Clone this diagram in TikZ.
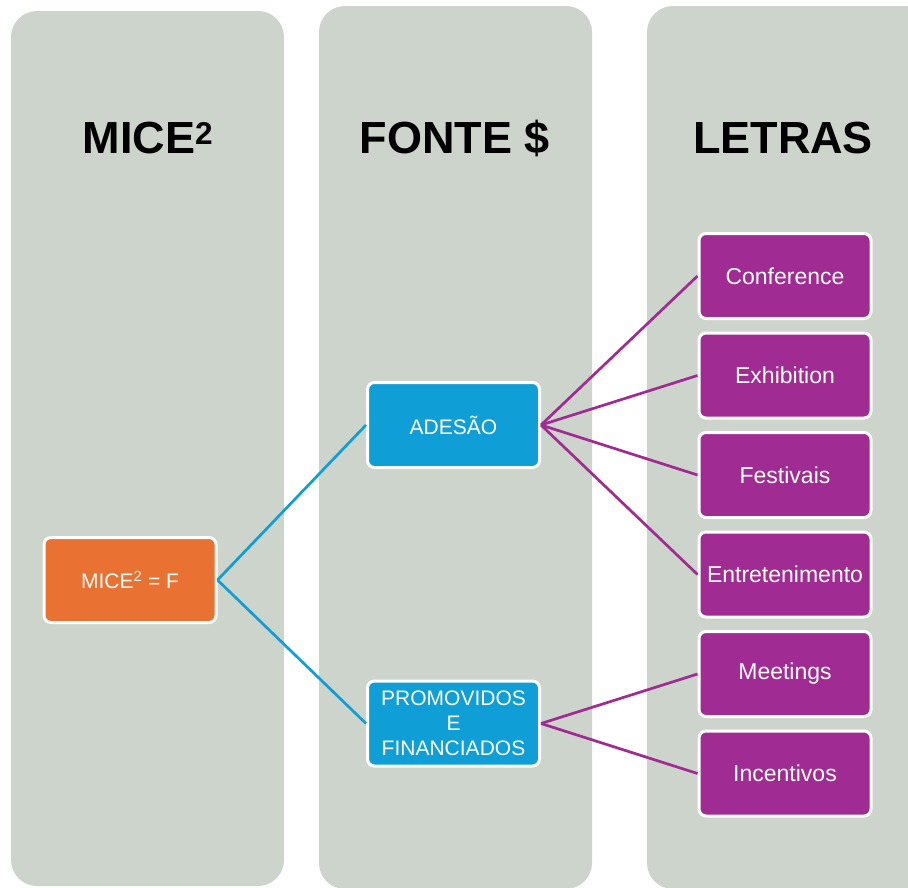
\documentclass[tikz,border=0pt]{standalone}
\usepackage{fontspec}
\setmainfont{Liberation Sans}
\definecolor{panel}{HTML}{CDD4CC}
\definecolor{orng}{HTML}{E97132}
\definecolor{blu}{HTML}{0F9ED5}
\definecolor{purp}{HTML}{A02B93}
\tikzset{
  panelbox/.style={fill=panel, draw=none, rounded corners=26pt},
  header/.style={font=\fontsize{45}{54}\selectfont\bfseries, text=black, anchor=center},
  box/.style={draw=white, line width=3pt, rounded corners=7pt, minimum width=172pt, minimum height=85pt,
    inner sep=0pt, text=white, align=center, font=\fontsize{21}{25}\selectfont},
  obox/.style={box, fill=orng},
  bbox/.style={box, fill=blu},
  pbox/.style={box, fill=purp, font=\fontsize{23}{27}\selectfont},
  bline/.style={draw=blu, line width=2.7pt},
  pline/.style={draw=purp, line width=2.7pt},
}
\begin{document}
\begin{tikzpicture}[x=1pt, y=-1pt]
\useasboundingbox (0,0) rectangle (908,887);
\clip (0,0) rectangle (908,887);
% panels
\fill[panelbox] (11,11) rectangle (284,886);
\fill[panelbox] (319,6) rectangle (592,889);
\fill[panelbox] (647,6) rectangle (935,889);
% headers
\node[header] (h1) at (148,138) {MICE\textsuperscript{2}};
\node[header] (h2) at (455,138) {FONTE \$};
\node[header] (h3) at (783,138) {LETRAS};
% nodes
\node[obox] (mice) at (130,580) {MICE\textsuperscript{2} = F};
\node[bbox] (ades) at (453.5,425) {ADESÃO};
\node[bbox] (prom) at (453.5,723.5) {PROMOVIDOS\\E\\FINANCIADOS};
\node[pbox] (conf) at (785,276) {Conference};
\node[pbox] (exhi) at (785,375.5) {Exhibition};
\node[pbox] (fest) at (785,475) {Festivais};
\node[pbox] (entr) at (785,574.5) {Entretenimento};
\node[pbox] (meet) at (785,674) {Meetings};
\node[pbox] (ince) at (785,773.5) {Incentivos};
% connectors
\draw[bline] (mice.east) -- (ades.west);
\draw[bline] (mice.east) -- (prom.west);
\draw[pline] (ades.east) -- (conf.west);
\draw[pline] (ades.east) -- (exhi.west);
\draw[pline] (ades.east) -- (fest.west);
\draw[pline] (ades.east) -- (entr.west);
\draw[pline] (prom.east) -- (meet.west);
\draw[pline] (prom.east) -- (ince.west);
\end{tikzpicture}
\end{document}
